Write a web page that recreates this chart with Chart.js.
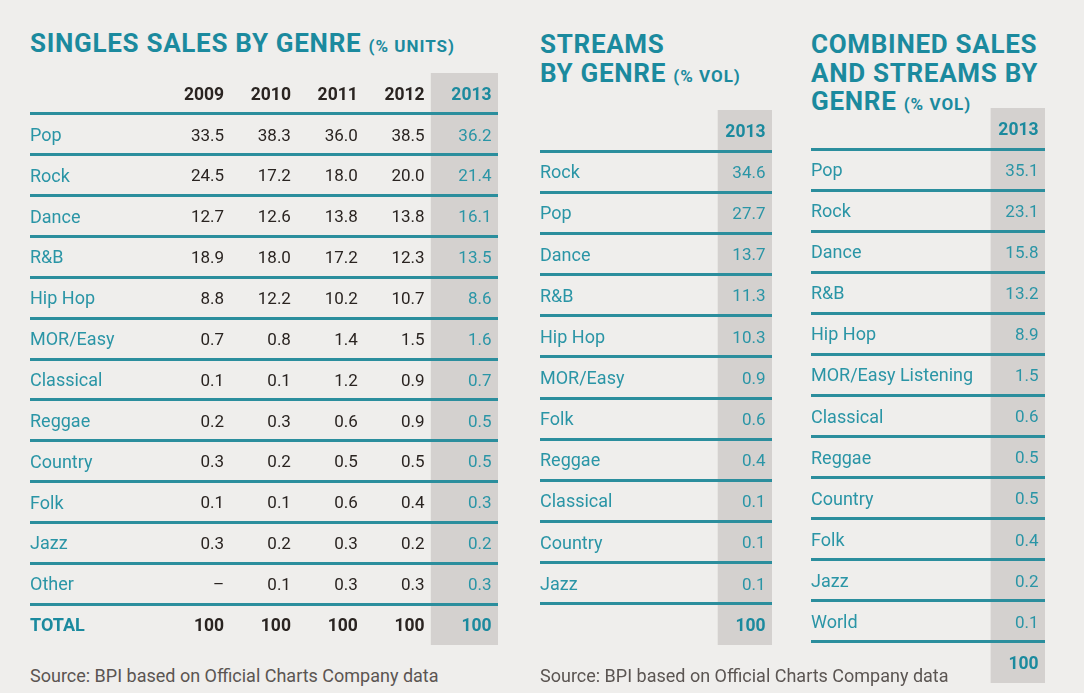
<!DOCTYPE html>
<html>
<head>
<meta charset="utf-8">
<script src="https://cdn.jsdelivr.net/npm/chart.js@4.4.1/dist/chart.umd.min.js"></script>
<style>
  html, body { margin: 0; padding: 0; }
  body { width: 1084px; height: 693px; background: #efeeec; position: relative; overflow: hidden; font-family: Roboto, "Noto Sans", sans-serif; }
  .title { position: absolute; color: #1b8a9e; font-weight: 700; font-size: 26px; line-height: 28.5px; letter-spacing: 0.7px; white-space: nowrap; }
  .title small { font-size: 17px; letter-spacing: 1px; }
  .box { position: absolute; }
  .source { position: absolute; color: #5b5552; font-size: 18px; line-height: 20px; white-space: nowrap; }
</style>
</head>
<body>
<div class="title" style="left:30px; top:29px;">SINGLES SALES BY GENRE <small>(% UNITS)</small></div>
<div class="title" style="left:540px; top:30px;">STREAMS<br>BY GENRE <small>(% VOL)</small></div>
<div class="title" style="left:811px; top:30px;">COMBINED SALES<br>AND STREAMS BY<br>GENRE <small>(% VOL)</small></div>

<div class="box" style="left:30px; top:73px; width:468px; height:572px;"><canvas id="singlesChart"></canvas></div>
<div class="box" style="left:540px; top:110px; width:232px; height:535px;"><canvas id="streamChart"></canvas></div>
<div class="box" style="left:811px; top:108px; width:234px; height:575px;"><canvas id="combinedChart"></canvas></div>

<div class="source" style="left:30px; top:666px;">Source: BPI based on Official Charts Company data</div>
<div class="source" style="left:540px; top:666px;">Source: BPI based on Official Charts Company data</div>

<script>
// シングル売上 (% units)
const singlesYears = ['2009', '2010', '2011', '2012', '2013'];
const singlesGenres = ['Pop', 'Rock', 'Dance', 'R&B', 'Hip Hop', 'MOR/Easy', 'Classical', 'Reggae', 'Country', 'Folk', 'Jazz', 'Other'];
const singles2009 = [33.5, 24.5, 12.7, 18.9, 8.8, 0.7, 0.1, 0.2, 0.3, 0.1, 0.3, null];
const singles2010 = [38.3, 17.2, 12.6, 18.0, 12.2, 0.8, 0.1, 0.3, 0.2, 0.1, 0.2, 0.1];
const singles2011 = [36.0, 18.0, 13.8, 17.2, 10.2, 1.4, 1.2, 0.6, 0.5, 0.6, 0.3, 0.3];
const singles2012 = [38.5, 20.0, 13.8, 12.3, 10.7, 1.5, 0.9, 0.9, 0.5, 0.4, 0.2, 0.3];
const singles2013 = [36.2, 21.4, 16.1, 13.5, 8.6, 1.6, 0.7, 0.5, 0.5, 0.3, 0.2, 0.3];
const singlesTotals = [100, 100, 100, 100, 100];

// ストリーム (% vol)
const streamYears = ['2013'];
const streamGenres = ['Rock', 'Pop', 'Dance', 'R&B', 'Hip Hop', 'MOR/Easy', 'Folk', 'Reggae', 'Classical', 'Country', 'Jazz'];
const stream2013 = [34.6, 27.7, 13.7, 11.3, 10.3, 0.9, 0.6, 0.4, 0.1, 0.1, 0.1];
const streamTotals = [100];

// 売上+ストリーム (% vol)
const combinedYears = ['2013'];
const combinedGenres = ['Pop', 'Rock', 'Dance', 'R&B', 'Hip Hop', 'MOR/Easy Listening', 'Classical', 'Reggae', 'Country', 'Folk', 'Jazz', 'World'];
const combined2013 = [35.1, 23.1, 15.8, 13.2, 8.9, 1.5, 0.6, 0.5, 0.5, 0.4, 0.2, 0.1];
const combinedTotals = [100];

const FONT = 'Roboto, "Noto Sans", sans-serif';
const TEAL = '#2a95a6';
const TEAL_DARK = '#1b8a9e';
const LINE = '#2b8e9d';
const INK = '#2a2421';
const GREY = '#d4d1cf';
const NUDGE = 2; // 文字の縦位置の微調整

function fmt(v) {
    return v === null ? '–' : v.toFixed(1);
}

// セルの文字を描くプラグイン
const cellText = {
    id: 'cellText',
    afterDraw(chart, args, opts) {
        const ctx = chart.ctx;
        const x = chart.scales.x;
        const y = chart.scales.y;
        const last = opts.years.length - 1;
        ctx.save();
        ctx.textAlign = 'right';
        ctx.textBaseline = 'middle';
        opts.years.forEach((year, c) => {
            const right = x.getPixelForValue(opts.labelUnits + c + 1) - 6.5;
            const isHi = c === last;
            // 見出し
            ctx.font = 'bold 17.5px ' + FONT;
            ctx.fillStyle = isHi ? TEAL_DARK : INK;
            ctx.fillText(year, right, y.getPixelForValue(0) + NUDGE);
            // 値
            ctx.font = '17px ' + FONT;
            ctx.fillStyle = isHi ? TEAL : INK;
            opts.columns[c].forEach((v, r) => {
                ctx.fillText(fmt(v), right, y.getPixelForValue(r + 1) + NUDGE);
            });
            // 合計
            ctx.font = 'bold 17.5px ' + FONT;
            ctx.fillStyle = isHi ? TEAL_DARK : INK;
            ctx.fillText(String(opts.totals[c]), right, y.getPixelForValue(opts.columns[c].length + 1) + NUDGE);
        });
        ctx.restore();
    }
};

function buildTable(id, genres, totalLabel, years, columns, totals, labelUnits) {
    const labels = [''].concat(genres, [totalLabel]);
    const n = labels.length;
    const hiStart = labelUnits + years.length - 1;
    new Chart(document.getElementById(id), {
        type: 'bar',
        data: {
            labels: labels,
            datasets: [{
                // 2013列の灰色背景
                data: labels.map(() => [hiStart, hiStart + 1]),
                backgroundColor: GREY,
                borderWidth: 0,
                borderSkipped: false,
                barPercentage: 1,
                categoryPercentage: 1
            }]
        },
        options: {
            indexAxis: 'y',
            responsive: true,
            maintainAspectRatio: false,
            animation: false,
            layout: { padding: 0 },
            plugins: {
                legend: { display: false },
                tooltip: { enabled: false },
                cellText: { years: years, columns: columns, totals: totals, labelUnits: labelUnits }
            },
            scales: {
                x: { type: 'linear', min: 0, max: labelUnits + years.length, display: false },
                y: {
                    type: 'category',
                    offset: true,
                    border: { display: false },
                    grid: {
                        offset: true,
                        z: 1,
                        drawTicks: false,
                        lineWidth: 3,
                        color: c => (c.index > 0 && c.index < n) ? LINE : 'rgba(0,0,0,0)'
                    },
                    ticks: {
                        mirror: true,
                        padding: 0,
                        labelOffset: NUDGE,
                        z: 1,
                        autoSkip: false,
                        color: c => c.index === n - 1 ? TEAL_DARK : TEAL,
                        font: c => ({ family: FONT, size: 18, weight: c.index === n - 1 ? 'bold' : 'normal' })
                    },
                    afterFit(scale) {
                        scale.paddingTop = 0;
                        scale.paddingBottom = 0;
                    }
                }
            }
        },
        plugins: [cellText]
    });
}

buildTable('singlesChart', singlesGenres, 'TOTAL', singlesYears,
    [singles2009, singles2010, singles2011, singles2012, singles2013], singlesTotals, 2);
buildTable('streamChart', streamGenres, '', streamYears, [stream2013], streamTotals, 3.3);
buildTable('combinedChart', combinedGenres, '', combinedYears, [combined2013], combinedTotals, 3.33);
</script>
</body>
</html>
